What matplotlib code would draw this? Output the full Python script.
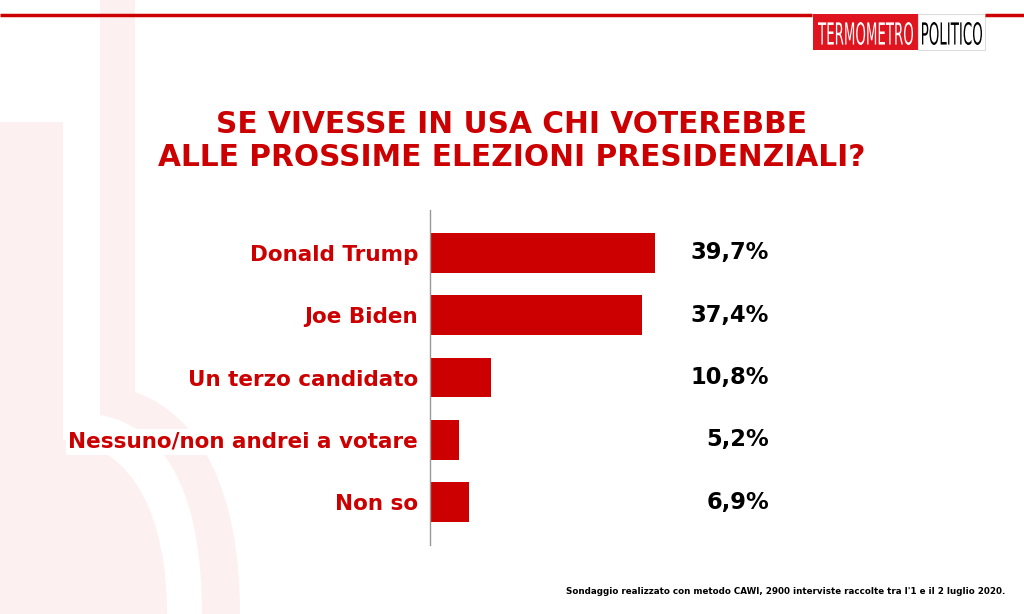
import matplotlib
matplotlib.use("Agg")
import matplotlib.pyplot as plt
from matplotlib.patches import Rectangle, PathPatch
from matplotlib.path import Path
from matplotlib.textpath import TextPath
from matplotlib.font_manager import FontProperties
from matplotlib.transforms import Affine2D

# data
categories = ["Donald Trump", "Joe Biden", "Un terzo candidato",
              "Nessuno/non andrei a votare", "Non so"]
values = [39.7, 37.4, 10.8, 5.2, 6.9]
value_labels = ["39,7%", "37,4%", "10,8%", "5,2%", "6,9%"]
title = "SE VIVESSE IN USA CHI VOTEREBBE\nALLE PROSSIME ELEZIONI PRESIDENZIALI?"
note = "Sondaggio realizzato con metodo CAWI, 2900 interviste raccolte tra l'1 e il 2 luglio 2020."

RED = "#cc0000"
PINK = "#fcf0f0"
W, H = 1024, 614

fig = plt.figure(figsize=(W / 100, H / 100), dpi=100)
fig.patch.set_facecolor("white")

# background decoration (faint thermometer), pixel coordinates
bg = fig.add_axes([0, 0, 1, 1])
bg.set_xlim(0, W)
bg.set_ylim(H, 0)
bg.axis("off")
M, L, C, Z = Path.MOVETO, Path.LINETO, Path.CURVE4, Path.CLOSEPOLY
ring = Path([(100, 0), (135, 0), (135, 392),
             (200, 415), (240, 490), (240, 614),
             (202, 614),
             (202, 500), (170, 428), (100, 415),
             (100, 0)],
            [M, L, L, C, C, C, L, C, C, C, Z])
bg.add_patch(PathPatch(ring, color=PINK, lw=0))
blob = Path([(0, 122), (63, 122), (63, 440),
             (135, 445), (167, 520), (167, 614),
             (0, 614), (0, 122)],
            [M, L, L, C, C, C, L, Z])
bg.add_patch(PathPatch(blob, color=PINK, lw=0))

# top line and logo
bg.plot([0, 812], [15, 15], color=RED, lw=2.5, solid_capstyle="butt")
bg.plot([985, W], [15, 15], color=RED, lw=2.5, solid_capstyle="butt")
bg.add_patch(Rectangle((813, 14), 105, 36, color="#e0141e", lw=0))
bg.add_patch(Rectangle((918, 14), 67, 36, facecolor="white", edgecolor="#dddddd", lw=0.8))


def squeezed_text(s, x0, x1, y0, y1, color):
    tp = TextPath((0, 0), s, size=1, prop=FontProperties(family="DejaVu Sans"))
    ext = tp.get_extents()
    sx = (x1 - x0) / ext.width
    sy = (y1 - y0) / ext.height
    tr = Affine2D().translate(-ext.x0, -ext.y0).scale(sx, -sy).translate(x0, y1)
    bg.add_patch(PathPatch(tr.transform_path(tp), color=color, lw=0))


squeezed_text("TERMOMETRO", 818, 913, 22, 45, "white")
squeezed_text("POLITICO", 922, 982, 22, 45, "black")

# title
bg.text(512, 141, title, color=RED, fontsize=21.3, fontweight="bold",
        ha="center", va="center", linespacing=1.2)

# footnote
bg.text(1005, 591, note, color="black", fontsize=6.3, fontweight="bold",
        ha="right", va="center")

# bar chart
x0, y_top, y_bot = 430, 210, 545
xmax = 60
px_per = 5.67
ax = fig.add_axes([x0 / W, (H - y_bot) / H, xmax * px_per / W, (y_bot - y_top) / H])
ax.patch.set_alpha(0)
pos = list(range(len(categories)))
ax.barh(pos, values, height=0.64, color=RED)
ax.set_ylim(len(categories) - 1 + 0.69, -0.69)
ax.set_xlim(0, xmax)
for s in ["top", "right", "bottom"]:
    ax.spines[s].set_visible(False)
ax.spines["left"].set_color("#999999")
ax.spines["left"].set_linewidth(1)
ax.set_xticks([])
ax.set_yticks(pos)
ax.set_yticklabels(categories, color=RED, fontsize=15.5, fontweight="bold")
ax.tick_params(axis="y", length=0, pad=8.5)
for t in ax.get_yticklabels():
    t.set_bbox(dict(facecolor="white", edgecolor="none", pad=2))
for p, lab in zip(pos, value_labels):
    ax.text(59.8, p, lab, color="black", fontsize=16.3, fontweight="bold",
            ha="right", va="center")

fig.savefig("out.png", dpi=100)
